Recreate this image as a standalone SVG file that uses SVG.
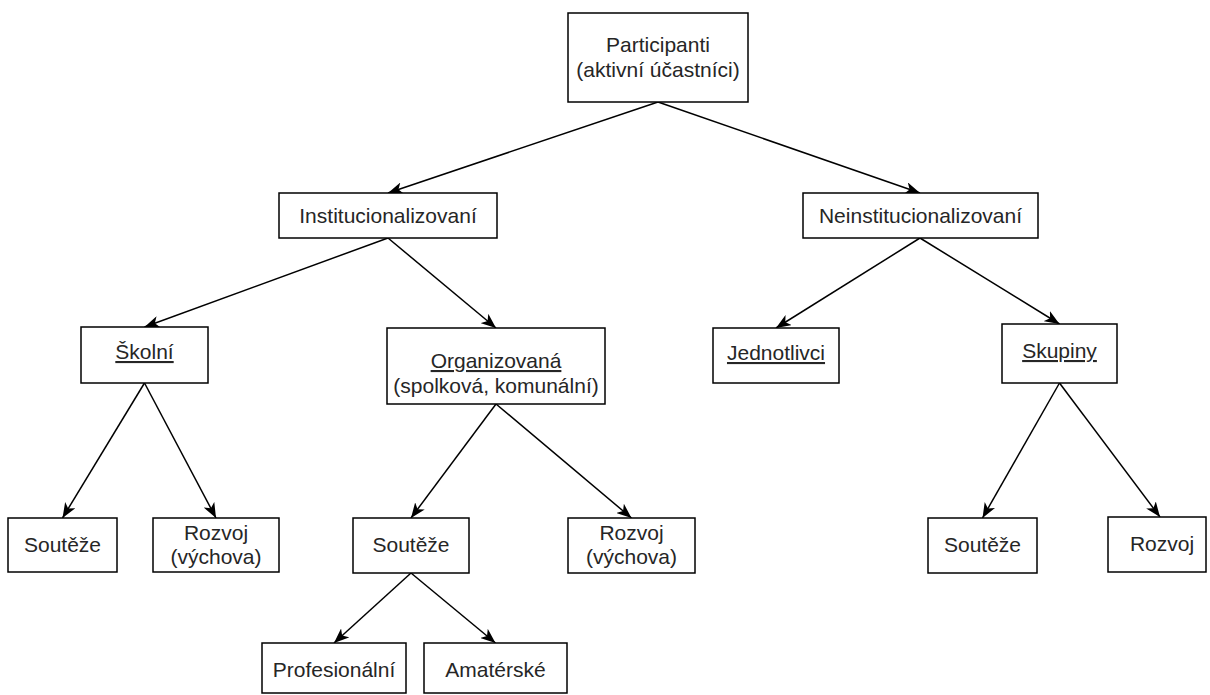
<svg xmlns="http://www.w3.org/2000/svg" width="1210" height="695" viewBox="0 0 1210 695">
  <style>
    .box { fill: #ffffff; stroke: #000000; stroke-width: 1.5; }
    .lbl { font-family: "Liberation Sans", Arial, sans-serif; font-size: 21px; fill: #262626; text-anchor: middle; }
    .u { text-decoration: underline; }
    .edge { stroke: #000000; stroke-width: 1.5; fill: none; marker-end: url(#arrow); }
  </style>
  <defs>
    <marker id="arrow" viewBox="0 0 15 12" refX="15" refY="6" markerWidth="15" markerHeight="12" markerUnits="userSpaceOnUse" orient="auto">
      <path d="M0,0 L15,6 L0,12 L4,6 z" fill="#000000"/>
    </marker>
  </defs>
  <rect width="1210" height="695" fill="#ffffff"/>

  <g id="connectors">
    <line class="edge" x1="658" y1="102" x2="388" y2="193"/>
    <line class="edge" x1="658" y1="102" x2="920" y2="193"/>
    <line class="edge" x1="388" y1="238" x2="144.5" y2="327"/>
    <line class="edge" x1="388" y1="238" x2="496" y2="328"/>
    <line class="edge" x1="920" y1="238" x2="776" y2="328"/>
    <line class="edge" x1="920" y1="238" x2="1059.5" y2="324"/>
    <line class="edge" x1="144.5" y1="383" x2="62.5" y2="518"/>
    <line class="edge" x1="144.5" y1="383" x2="216" y2="518"/>
    <line class="edge" x1="496" y1="404" x2="411" y2="518"/>
    <line class="edge" x1="496" y1="404" x2="631.5" y2="518"/>
    <line class="edge" x1="1059.5" y1="383" x2="982.5" y2="518"/>
    <line class="edge" x1="1059.5" y1="383" x2="1160" y2="517"/>
    <line class="edge" x1="411" y1="573" x2="334" y2="643"/>
    <line class="edge" x1="411" y1="573" x2="495.5" y2="643"/>
  </g>

  <g id="participanti">
    <rect class="box" x="568" y="13" width="180" height="89"/>
    <text class="lbl" x="658" y="52">Participanti</text>
    <text class="lbl" x="658" y="77">(aktivní účastníci)</text>
  </g>

  <g id="institucionalizovani">
    <rect class="box" x="279" y="193" width="218" height="45"/>
    <text class="lbl" x="388" y="223">Institucionalizovaní</text>
  </g>

  <g id="neinstitucionalizovani">
    <rect class="box" x="803" y="193" width="235" height="45"/>
    <text class="lbl" x="920.5" y="223">Neinstitucionalizovaní</text>
  </g>

  <g id="skolni">
    <rect class="box" x="81" y="327" width="127" height="56"/>
    <text class="lbl u" x="144.5" y="359">Školní</text>
  </g>

  <g id="organizovana">
    <rect class="box" x="387" y="328" width="218" height="76"/>
    <text class="lbl u" x="496" y="368">Organizovaná</text>
    <text class="lbl" x="496" y="393">(spolková, komunální)</text>
  </g>

  <g id="jednotlivci">
    <rect class="box" x="713" y="328" width="126" height="55"/>
    <text class="lbl u" x="776" y="360">Jednotlivci</text>
  </g>

  <g id="skupiny">
    <rect class="box" x="1002" y="324" width="115" height="59"/>
    <text class="lbl u" x="1059.5" y="358">Skupiny</text>
  </g>

  <g id="skolni-souteze">
    <rect class="box" x="8" y="518" width="109" height="54"/>
    <text class="lbl" x="62.5" y="552">Soutěže</text>
  </g>

  <g id="skolni-rozvoj">
    <rect class="box" x="153" y="518" width="126" height="54"/>
    <text class="lbl" x="216" y="540">Rozvoj</text>
    <text class="lbl" x="216" y="564">(výchova)</text>
  </g>

  <g id="org-souteze">
    <rect class="box" x="353" y="518" width="116" height="55"/>
    <text class="lbl" x="411" y="552">Soutěže</text>
  </g>

  <g id="org-rozvoj">
    <rect class="box" x="568" y="518" width="127" height="55"/>
    <text class="lbl" x="631.5" y="540">Rozvoj</text>
    <text class="lbl" x="631.5" y="564">(výchova)</text>
  </g>

  <g id="skupiny-souteze">
    <rect class="box" x="928" y="518" width="109" height="55"/>
    <text class="lbl" x="982.5" y="552">Soutěže</text>
  </g>

  <g id="skupiny-rozvoj">
    <rect class="box" x="1108" y="517" width="98" height="55"/>
    <text class="lbl" x="1162" y="551">Rozvoj</text>
  </g>

  <g id="profesionalni">
    <rect class="box" x="262" y="643" width="144" height="50"/>
    <text class="lbl" x="334" y="677">Profesionální</text>
  </g>

  <g id="amaterske">
    <rect class="box" x="424" y="643" width="143" height="50"/>
    <text class="lbl" x="495.5" y="677">Amatérské</text>
  </g>
</svg>
